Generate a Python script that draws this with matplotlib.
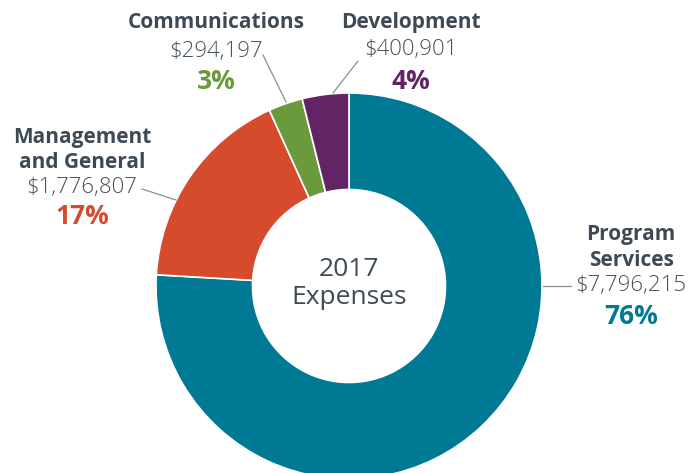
import matplotlib.pyplot as plt

categories = ["Program Services", "Management and General", "Communications", "Development"]
amounts = [7796215, 1776807, 294197, 400901]
amount_labels = ["$7,796,215", "$1,776,807", "$294,197", "$400,901"]
pct_labels = ["76%", "17%", "3%", "4%"]
colors = ["#007A94", "#D64B2C", "#6A9A3B", "#622465"]

W, H = 688, 473
fig = plt.figure(figsize=(W / 100, H / 100), dpi=100)
ax = fig.add_axes([0, 0, 1, 1])

cx, cy, r = 349, H - 286, 193
ax.pie(amounts, colors=colors, startangle=90, counterclock=False,
       center=(cx, cy), radius=r, frame=True,
       wedgeprops=dict(width=r * 0.5, edgecolor="white", linewidth=1.2))
ax.set_xlim(0, W)
ax.set_ylim(0, H)
ax.set_aspect("equal")
ax.axis("off")

fam = ["Open Sans", "DejaVu Sans"]
dark = "#3D4A55"
grey = "#46525C"

def y(p):
    return H - p

def label(x, ys, name_lines, amount, pct, color):
    for i, line in enumerate(name_lines):
        ax.text(x, y(ys[i]), line, ha="center", va="center", fontsize=15,
                fontweight="bold", color=dark, family=fam)
    ax.text(x, y(ys[len(name_lines)]), amount, ha="center", va="center",
            fontsize=16, color=grey, family=fam, fontweight="light")
    ax.text(x, y(ys[len(name_lines) + 1]), pct, ha="center", va="center",
            fontsize=19, fontweight="bold", color=color, family=fam)

label(631, [235, 260, 286, 316], ["Program", "Services"], amount_labels[0], pct_labels[0], colors[0])
label(82, [137, 163, 188, 217], ["Management", "and General"], amount_labels[1], pct_labels[1], colors[1])
label(216, [23, 52, 82], ["Communications"], amount_labels[2], pct_labels[2], colors[2])
label(411, [23, 50, 82], ["Development"], amount_labels[3], pct_labels[3], colors[3])

# leader lines
lc = "#8A8F94"
ax.plot([543, 571], [y(286), y(286)], color=lc, lw=0.9)
ax.plot([142, 176], [y(189), y(200)], color=lc, lw=0.9)
ax.plot([263, 286], [y(55), y(102)], color=lc, lw=0.9)
ax.plot([358, 333], [y(61), y(93)], color=lc, lw=0.9)

ax.text(cx, y(270), "2017", ha="center", va="center", fontsize=19, color=dark, family=fam)
ax.text(cx, y(298), "Expenses", ha="center", va="center", fontsize=19, color=dark, family=fam)

fig.savefig("out.png", dpi=100)
